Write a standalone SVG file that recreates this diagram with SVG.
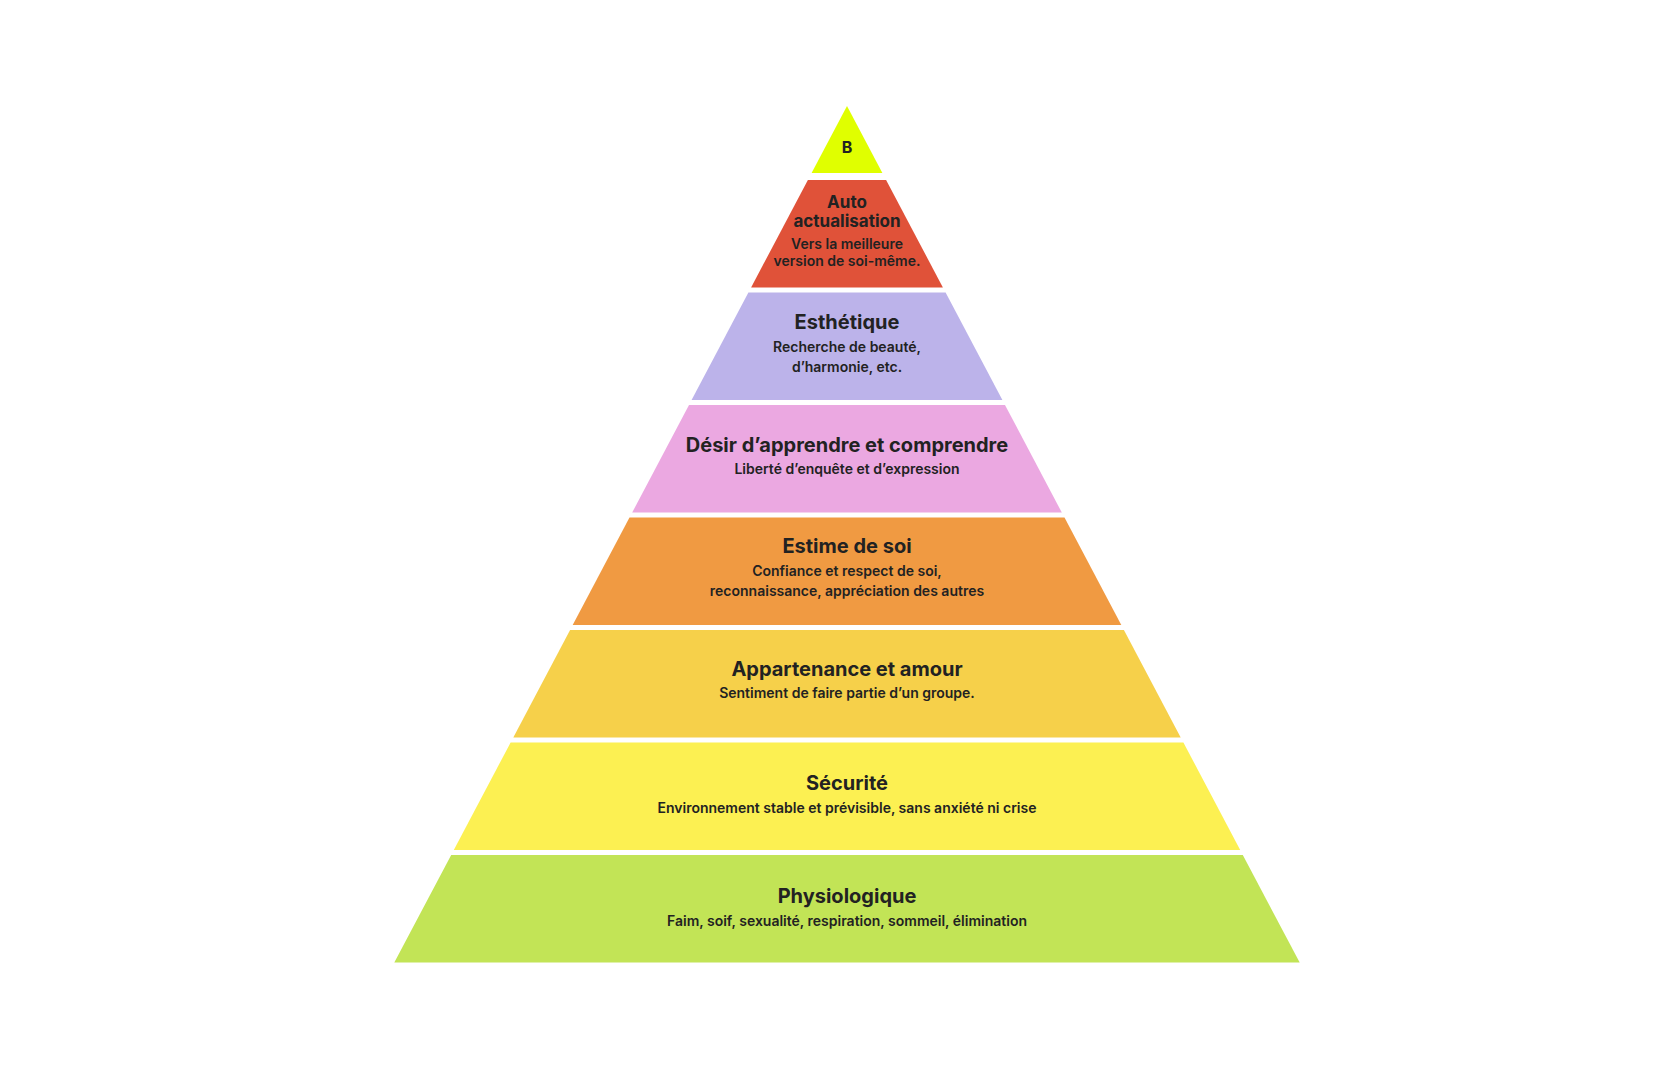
<svg xmlns="http://www.w3.org/2000/svg" width="1680" height="1074" viewBox="0 0 1680 1074">
<style>
.t{font-family:Inter,"Liberation Sans",sans-serif;font-weight:700;fill:#222;text-anchor:middle;font-size:20px}
.ts{font-size:17px}
.s{font-family:Inter,"Liberation Sans",sans-serif;font-weight:600;fill:#222;text-anchor:middle;font-size:14px}
</style>
<rect width="1680" height="1074" fill="#ffffff"/>
<g id="level-b">
<polygon points="847,106 882.4,173 811.6,173" fill="#e0ff00"/>
<text class="t" x="847" y="153" style="font-size:16px">B</text>
</g>
<g id="level-auto-actualisation">
<polygon points="807.9,180 886.1,180 942.9,287.5 751.1,287.5" fill="#e05239"/>
<text class="t ts" x="847" y="208">Auto</text>
<text class="t ts" x="847" y="227">actualisation</text>
<text class="s" x="847" y="249">Vers la meilleure</text>
<text class="s" x="847" y="266">version de soi-même.</text>
</g>
<g id="level-esthetique">
<polygon points="748.4,292.5 945.6,292.5 1002.4,400 691.6,400" fill="#bcb3ea"/>
<text class="t" x="847" y="329">Esthétique</text>
<text class="s" x="847" y="352">Recherche de beauté,</text>
<text class="s" x="847" y="372">d’harmonie, etc.</text>
</g>
<g id="level-desir">
<polygon points="689,405 1005,405 1061.8,512.5 632.2,512.5" fill="#eba8e1"/>
<text class="t" x="847" y="452">Désir d’apprendre et comprendre</text>
<text class="s" x="847" y="474">Liberté d’enquête et d’expression</text>
</g>
<g id="level-estime">
<polygon points="629.5,517.5 1064.5,517.5 1121.3,625 572.7,625" fill="#f09a42"/>
<text class="t" x="847" y="553">Estime de soi</text>
<text class="s" x="847" y="576">Confiance et respect de soi,</text>
<text class="s" x="847" y="596">reconnaissance, appréciation des autres</text>
</g>
<g id="level-appartenance">
<polygon points="570.1,630 1123.9,630 1180.7,737.5 513.3,737.5" fill="#f6d04a"/>
<text class="t" x="847" y="676">Appartenance et amour</text>
<text class="s" x="847" y="698">Sentiment de faire partie d’un groupe.</text>
</g>
<g id="level-securite">
<polygon points="510.6,742.5 1183.4,742.5 1240.2,850 453.8,850" fill="#fcf052"/>
<text class="t" x="847" y="790">Sécurité</text>
<text class="s" x="847" y="813">Environnement stable et prévisible, sans anxiété ni crise</text>
</g>
<g id="level-physiologique">
<polygon points="451.2,855 1242.8,855 1299.7,962.5 394.3,962.5" fill="#c2e456"/>
<text class="t" x="847" y="903">Physiologique</text>
<text class="s" x="847" y="926">Faim, soif, sexualité, respiration, sommeil, élimination</text>
</g>
<g id="connectors"/>
</svg>
